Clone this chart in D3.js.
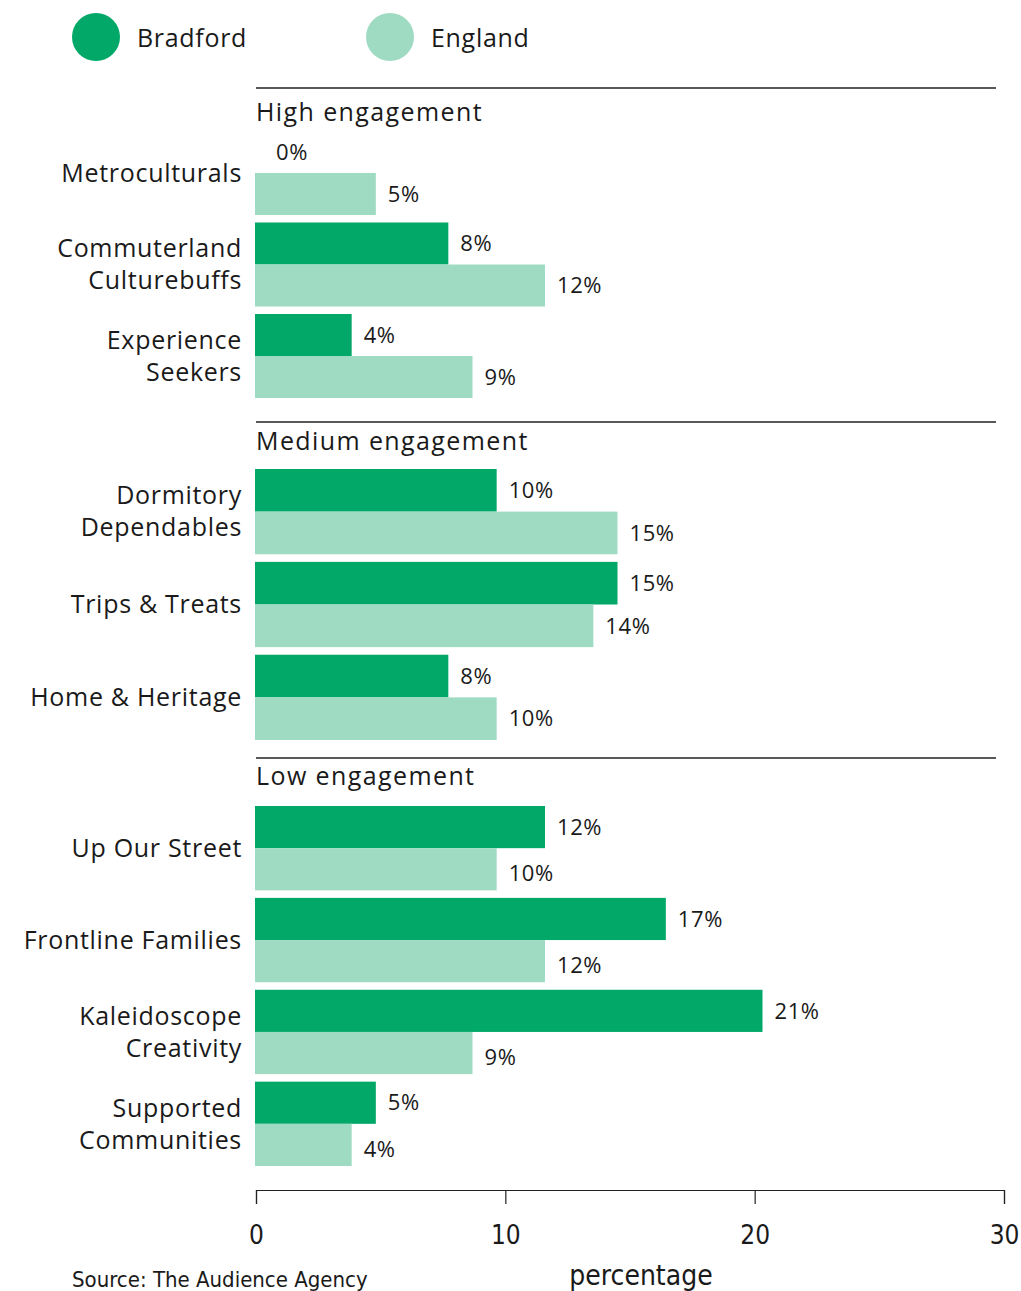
<!DOCTYPE html>
<html>
<head>
<meta charset="utf-8">
<script src="https://cdn.jsdelivr.net/npm/d3@7"></script>
<style>
  html, body { margin: 0; padding: 0; background: #fff; }
  svg { display: block; }
  text { font-family: "Open Sans", Lato, sans-serif; fill: #1a1a1a; }
  .narrow { font-family: "Liberation Sans Narrow", "DejaVu Sans Condensed", Lato, sans-serif; }
</style>
</head>
<body>
<script>
// ---- Data ----
const groups = ["High engagement", "Medium engagement", "Low engagement"];
const categories = [
  "Metroculturals", "Commuterland\nCulturebuffs", "Experience\nSeekers",
  "Dormitory\nDependables", "Trips & Treats", "Home & Heritage",
  "Up Our Street", "Frontline Families", "Kaleidoscope\nCreativity", "Supported\nCommunities"
];
const categoryGroup = [
  "High engagement", "High engagement", "High engagement",
  "Medium engagement", "Medium engagement", "Medium engagement",
  "Low engagement", "Low engagement", "Low engagement", "Low engagement"
];
const bradford = [0, 8, 4, 10, 15, 8, 12, 17, 21, 5];
const england  = [5, 12, 9, 15, 14, 10, 10, 12, 9, 4];
const seriesNames = ["Bradford", "England"];
const tickValues = [0, 10, 20, 30];
const axisTitle = "percentage";
const sourceText = "Source: The Audience Agency";

// ---- Layout ----
const W = 1021, H = 1291;
const colors = { Bradford: "#02a867", England: "#9fdbc3" };
const groupLayout = {
  "High engagement":   { line: 88,  header: 112, top: 131, bottom: 398, labelShift: 0 },
  "Medium engagement": { line: 422, header: 441, top: 469, bottom: 740, labelShift: 0 },
  "Low engagement":    { line: 758, header: 776, top: 806, bottom: 1166, labelShift: 4 }
};

const svg = d3.select("body").append("svg").attr("width", W).attr("height", H);

const xBar = d3.scaleLinear().domain([0, 30]).range([255, 980]);
const xAxisScale = d3.scaleLinear().domain([0, 30]).range([256, 1004]);

// Legend
const legend = svg.append("g");
seriesNames.forEach((s, i) => {
  const gx = [96, 390][i];
  legend.append("circle").attr("cx", gx).attr("cy", 37).attr("r", 24).attr("fill", colors[s]);
  legend.append("text").attr("x", gx + 41).attr("y", 38).attr("dy", "0.35em")
    .style("font-size", "25px").style("letter-spacing", "0.7px").text(s);
});

const rows = categories.map((c, i) => ({ cat: c, group: categoryGroup[i], b: bradford[i], e: england[i] }));

groups.forEach(gName => {
  const L = groupLayout[gName];
  const gRows = rows.filter(r => r.group === gName);
  const y = d3.scaleBand().domain(gRows.map(r => r.cat)).range([L.top, L.bottom]).paddingInner(0.082);
  const ySub = d3.scaleBand().domain(seriesNames).range([0, y.bandwidth()]);

  const g = svg.append("g");
  g.append("line").attr("x1", 256).attr("x2", 996).attr("y1", L.line).attr("y2", L.line)
    .attr("stroke", "#222").attr("stroke-width", 1.5);
  g.append("text").attr("x", 256).attr("y", L.header).attr("dy", "0.35em")
    .style("font-size", "25px").style("letter-spacing", "1.4px").text(gName);

  gRows.forEach(r => {
    const y0 = y(r.cat);
    const lines = r.cat.split("\n");
    const cy = y0 + y.bandwidth() / 2;
    const lh = 32;
    const t = g.append("text").attr("text-anchor", "end")
      .style("font-size", "25px").style("letter-spacing", "0.7px");
    lines.forEach((ln, k) => {
      t.append("tspan").attr("x", 242)
        .attr("y", cy - (lines.length - 1) * lh / 2 + k * lh)
        .attr("dy", "0.35em").text(ln);
    });
    [["Bradford", r.b], ["England", r.e]].forEach(([s, v]) => {
      const by = y0 + ySub(s);
      g.append("rect").attr("x", xBar(0)).attr("y", by)
        .attr("width", xBar(v) - xBar(0)).attr("height", ySub.bandwidth())
        .attr("fill", colors[s]);
      g.append("text").attr("x", xBar(v) + (v === 0 ? 21 : 12))
        .attr("y", by + ySub.bandwidth() / 2 + (s === "England" ? L.labelShift : 0))
        .attr("dy", "0.35em").style("font-size", "22px").style("letter-spacing", "0.6px")
        .text(v + "%");
    });
  });
});

// Axis
const axisG = svg.append("g").attr("transform", "translate(0,1190)")
  .call(d3.axisBottom(xAxisScale).tickValues(tickValues).tickSize(14).tickPadding(22).tickSizeOuter(14));
axisG.select(".domain").attr("stroke", "#222").attr("stroke-width", 1.2);
axisG.selectAll(".tick line").attr("stroke", "#222").attr("stroke-width", 1.2);
axisG.selectAll(".tick text").attr("class", "narrow").style("font-size", "26px").attr("fill", "#1a1a1a");

svg.append("text").attr("class", "narrow").attr("x", 641).attr("y", 1285)
  .attr("text-anchor", "middle").style("font-size", "28px").text(axisTitle);
svg.append("text").attr("class", "narrow").attr("x", 72).attr("y", 1287)
  .style("font-size", "22px").text(sourceText);
</script>
</body>
</html>
